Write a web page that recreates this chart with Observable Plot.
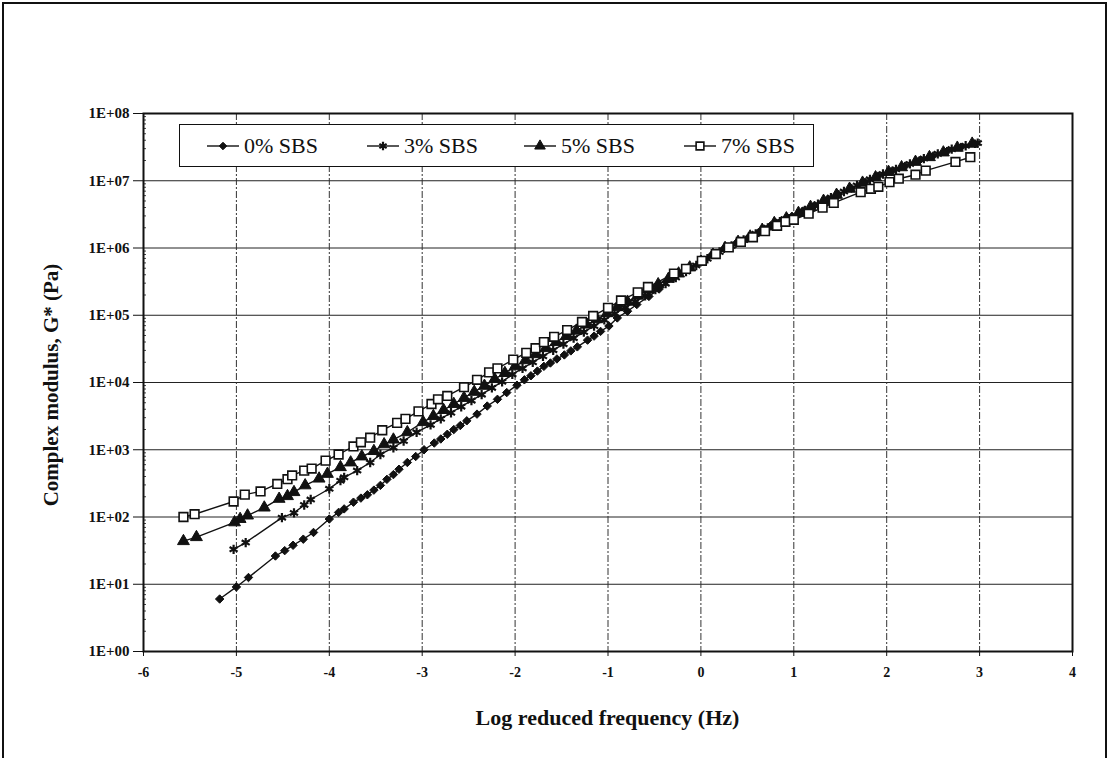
<!DOCTYPE html>
<html><head><meta charset="utf-8">
<script src="https://cdn.jsdelivr.net/npm/d3@7"></script>
<script src="https://cdn.jsdelivr.net/npm/@observablehq/plot@0.6"></script>
<style>
html,body{margin:0;padding:0;background:#fff;}
#wrap{position:relative;width:1109px;height:758px;overflow:hidden;font-family:"Liberation Serif","Times New Roman",serif;color:#111;}
#border{position:absolute;left:2px;top:2px;width:1101px;height:790px;border:2px solid #111;}
#chart{position:absolute;left:0;top:0;}
#legend{position:absolute;left:179px;top:124px;width:633px;height:41px;border:1.5px solid #111;background:#fff;font-family:"Liberation Serif","Times New Roman",serif;font-size:22px;}
.item{position:absolute;top:0;height:41px;display:flex;align-items:center;font-family:"Liberation Serif",serif;}
.item svg{display:block;margin-right:5px;}
#xtitle{position:absolute;left:0;width:1215px;top:705px;text-align:center;font-weight:bold;font-size:22px;}
#ytitle{position:absolute;left:51px;top:385px;transform:translate(-50%,-50%) rotate(-90deg);white-space:nowrap;font-weight:bold;font-size:21px;}
</style></head><body>
<div id="wrap"><div id="border"></div><div id="chart"></div><div id="legend"></div>
<div id="xtitle">Log reduced frequency (Hz)</div>
<div id="ytitle">Complex modulus, G* (Pa)</div></div>
<script>
// ---- data ----
const seriesNames = ["0% SBS", "3% SBS", "5% SBS", "7% SBS"];

const x0 = [-5.18,-5.00,-4.87,-4.58,-4.48,-4.39,-4.28,-4.17,-4.00,-3.90,-3.84,-3.74,-3.66,-3.59,-3.52,-3.45,-3.38,-3.31,-3.25,-3.16,-3.07,-2.98,-2.87,-2.80,-2.73,-2.66,-2.59,-2.52,-2.41,-2.30,-2.19,-2.09,-1.98,-1.90,-1.83,-1.76,-1.69,-1.62,-1.55,-1.47,-1.40,-1.33,-1.22,-1.15,-1.08,-0.99,-0.90,-0.79,-0.69,-0.56,-0.45,-0.30,-0.15,0.00,0.12,0.25,0.38,0.50,0.62,0.75,0.87,0.98,1.10,1.22,1.36,1.48,1.62,1.77,1.91,2.05,2.20,2.35,2.50,2.65,2.80,2.95];
const g0 = [6.03,9.12,12.6,26.3,31.6,38.0,46.8,58.9,93.3,117,132,166,191,214,251,295,363,427,513,646,794,1000,1259,1445,1698,1995,2291,2692,3388,4467,5623,7079,9120,10960,12590,14790,17380,19500,22390,25700,29510,33880,42660,48980,57540,69180,91200,114800,144500,190500,245500,354800,489800,631000,794300,977200,1175000,1380000,1698000,2138000,2570000,2951000,3548000,4266000,5248000,6310000,7762000,9550000,11750000,13800000,16600000,19950000,23440000,27540000,31620000,35480000];

const x3 = [-5.03,-4.90,-4.51,-4.38,-4.27,-4.20,-4.00,-3.88,-3.84,-3.70,-3.56,-3.45,-3.31,-3.20,-3.06,-2.91,-2.80,-2.69,-2.58,-2.47,-2.36,-2.25,-2.14,-2.03,-1.92,-1.81,-1.70,-1.59,-1.48,-1.37,-1.26,-1.15,-1.04,-0.93,-0.82,-0.71,-0.60,-0.49,-0.38,-0.27,-0.16,-0.05,0.07,0.20,0.33,0.46,0.59,0.72,0.85,0.98,1.12,1.26,1.40,1.54,1.68,1.82,1.96,2.10,2.25,2.40,2.55,2.70,2.85,2.98];
const g3 = [33.1,41.7,97.7,115,151,182,263,347,389,490,646,851,1072,1349,1820,2344,2884,3548,4365,5370,6607,8318,10230,13180,16220,19950,24550,30200,37150,45710,56230,69180,85110,104700,128800,158500,195000,239900,295100,363100,446700,549500,691800,871000,1072000,1318000,1622000,1995000,2455000,2884000,3631000,4467000,5623000,6918000,8511000,10470000,12590000,14790000,17780000,21380000,25120000,29510000,33110000,36310000];

const x5 = [-5.57,-5.43,-5.02,-4.96,-4.88,-4.70,-4.54,-4.45,-4.38,-4.26,-4.11,-4.02,-3.88,-3.77,-3.65,-3.52,-3.41,-3.31,-3.16,-2.99,-2.88,-2.77,-2.66,-2.55,-2.44,-2.33,-2.22,-2.11,-2.00,-1.89,-1.78,-1.67,-1.56,-1.45,-1.34,-1.23,-1.12,-1.01,-0.90,-0.79,-0.68,-0.57,-0.46,-0.35,-0.24,-0.12,0.00,0.13,0.26,0.40,0.53,0.66,0.79,0.92,1.05,1.18,1.32,1.46,1.60,1.74,1.88,2.02,2.16,2.31,2.46,2.61,2.76,2.92];
const g5 = [43.7,50.1,83.2,93.3,105,138,186,204,234,295,372,437,550,646,794,955,1202,1413,1820,2570,3162,3890,4786,5888,7244,8913,11220,13800,17380,21380,26300,32360,39810,48980,58880,72440,87100,107200,131800,158500,195000,239900,288400,346700,416900,512900,631000,794300,1000000,1230000,1479000,1862000,2344000,2754000,3311000,4074000,5012000,6166000,7586000,9333000,11220000,13490000,15850000,19050000,22390000,26300000,30900000,35480000];

const x7 = [-5.57,-5.45,-5.03,-4.91,-4.74,-4.56,-4.45,-4.40,-4.27,-4.19,-4.04,-3.90,-3.74,-3.66,-3.56,-3.43,-3.27,-3.18,-3.04,-2.90,-2.83,-2.73,-2.55,-2.41,-2.28,-2.19,-2.02,-1.88,-1.78,-1.69,-1.58,-1.44,-1.28,-1.16,-1.00,-0.86,-0.68,-0.57,-0.29,-0.16,0.01,0.16,0.30,0.43,0.56,0.69,0.82,0.91,1.00,1.16,1.31,1.43,1.72,1.83,1.91,2.03,2.13,2.31,2.42,2.74,2.90];
const g7 = [100,110,170,215,240,310,365,415,490,525,690,850,1120,1290,1510,1950,2510,2880,3720,4790,5620,6310,8510,10960,14130,16220,21880,27540,32360,39810,47860,60260,79430,97720,128800,166000,218800,263000,416900,489800,645700,812800,1023000,1230000,1445000,1778000,2138000,2455000,2630000,3236000,3981000,4677000,6761000,7586000,8128000,9550000,10720000,12300000,14130000,19050000,22390000];

const xTicks = [-6,-5,-4,-3,-2,-1,0,1,2,3,4];
const xTickLabels = ["-6","-5","-4","-3","-2","-1","0","1","2","3","4"];
const yTicks = [1,10,100,1e3,1e4,1e5,1e6,1e7,1e8];
const yTickLabels = ["1E+00","1E+01","1E+02","1E+03","1E+04","1E+05","1E+06","1E+07","1E+08"];

// ---- build table ----
const xs = [x0, x3, x5, x7], gs = [g0, g3, g5, g7];
const rows = [];
seriesNames.forEach((s, k) => xs[k].forEach((x, i) => rows.push({series: s, x, g: gs[k][i]})));

const yMinor = [];
for (let e = 0; e < 8; e++) for (let m = 2; m <= 9; m++) yMinor.push(m * Math.pow(10, e));
const xLab = new Map(xTicks.map((t, i) => [t, xTickLabels[i]]));
const yLab = new Map(yTicks.map((t, i) => [t, yTickLabels[i]]));

const styles = {
  "0% SBS": {symbol: "diamond2", r: 3.8, fill: "#111", stroke: "#111", sw: 1},
  "3% SBS": {symbol: "asterisk", r: 4.4, fill: "none", stroke: "#111", sw: 2.2},
  "5% SBS": {symbol: "triangle", r: 4.4, fill: "#111", stroke: "#111", sw: 1},
  "7% SBS": {symbol: "square", r: 4.9, fill: "#fff", stroke: "#111", sw: 1.6}
};

const marks = [
  Plot.gridY(yTicks, {stroke: "#222", strokeOpacity: 1, strokeWidth: 1}),
  Plot.gridX(xTicks.slice(1, -1), {stroke: "#333", strokeOpacity: 1, strokeWidth: 1, strokeDasharray: "7,2,2,2"}),
  Plot.axisY({ticks: yMinor, tickSize: -3, tickFormat: () => "", label: null, strokeWidth: 0.8}),
  Plot.axisY({ticks: yTicks, tickFormat: d => yLab.get(d), tickSize: 10, tickPadding: 4, fontSize: 15, label: null}),
  Plot.axisX({ticks: xTicks, tickFormat: d => xLab.get(d), tickSize: 5, tickPadding: 11, fontSize: 14, label: null}),
  Plot.line(rows, {x: "x", y: "g", z: "series", stroke: "#111", strokeWidth: 1.4})
];
for (const s of seriesNames) {
  const st = styles[s];
  marks.push(Plot.dot(rows.filter(d => d.series === s), {x: "x", y: "g", symbol: () => st.symbol, r: st.r, fill: st.fill, stroke: st.stroke, strokeWidth: st.sw}));
}
marks.push(Plot.frame({stroke: "#111", strokeWidth: 2}));

const chart = Plot.plot({
  width: 1109, height: 758,
  marginLeft: 143, marginRight: 37, marginTop: 113, marginBottom: 107,
  style: {fontFamily: "'Liberation Serif','Times New Roman',serif", fontWeight: "bold", background: "transparent", color: "#111"},
  x: {domain: [-6, 4]},
  y: {type: "log", domain: [1, 1e8]},
  symbol: {type: "identity"},
  marks
});
document.getElementById("chart").appendChild(chart);

// ---- legend ----
const legend = document.getElementById("legend");
const legendLeft = [27, 187, 344, 504];
const symMap = {diamond2: d3.symbolDiamond2, asterisk: d3.symbolAsterisk, triangle: d3.symbolTriangle, square: d3.symbolSquare};
seriesNames.forEach((s, i) => {
  const st = styles[s];
  const item = document.createElement("div");
  item.className = "item";
  item.style.left = legendLeft[i] + "px";
  const svg = d3.create("svg").attr("width", 32).attr("height", 14);
  svg.append("line").attr("x1", 0).attr("x2", 32).attr("y1", 7).attr("y2", 7).attr("stroke", "#111").attr("stroke-width", 1.4);
  svg.append("path").attr("transform", "translate(16,7)")
    .attr("d", d3.symbol(symMap[st.symbol], st.r * st.r * Math.PI * 0.8)())
    .attr("fill", st.fill).attr("stroke", st.stroke).attr("stroke-width", st.sw);
  item.appendChild(svg.node());
  const t = document.createElement("span");
  t.textContent = s;
  item.appendChild(t);
  legend.appendChild(item);
});
</script>
</body></html>
